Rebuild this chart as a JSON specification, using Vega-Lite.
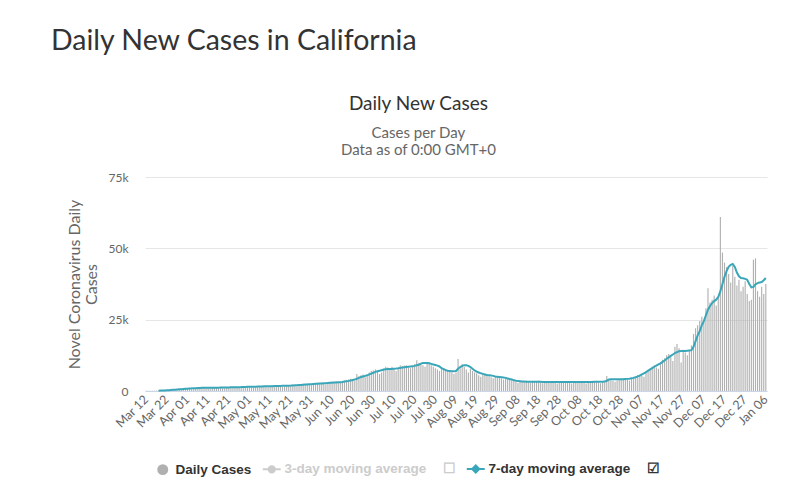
{
"$schema": "https://vega.github.io/schema/vega-lite/v6.json",
"background": "white",
"padding": {"left": 50, "top": 26, "right": 10, "bottom": 5},
"config": {"view": {"stroke": null}, "font": "Lato"},
"title": {"text": "Daily New Cases in California", "anchor": "start", "font": "Lato", "fontSize": 28.5, "fontWeight": "normal", "color": "#333333", "dx": -16, "offset": 40},
"datasets": {"ca": [
{"t":"Mar 12","c":50,"a":null},{"t":"Mar 13","c":70,"a":null},{"t":"Mar 14","c":90,"a":null},{"t":"Mar 15","c":100,"a":null},{"t":"Mar 16","c":120,"a":null},{"t":"Mar 17","c":160,"a":null},
{"t":"Mar 18","c":190,"a":110},{"t":"Mar 19","c":250,"a":140},{"t":"Mar 20","c":300,"a":170},{"t":"Mar 21","c":280,"a":200},{"t":"Mar 22","c":350,"a":250},{"t":"Mar 23","c":420,"a":300},{"t":"Mar 24","c":500,"a":350},{"t":"Mar 25","c":550,"a":410},{"t":"Mar 26","c":620,"a":460},{"t":"Mar 27","c":700,"a":520},{"t":"Mar 28","c":650,"a":580},{"t":"Mar 29","c":620,"a":620},{"t":"Mar 30","c":800,"a":680},{"t":"Mar 31","c":900,"a":750},
{"t":"Apr 01","c":1000,"a":820},{"t":"Apr 02","c":1100,"a":870},{"t":"Apr 03","c":1200,"a":920},{"t":"Apr 04","c":1000,"a":950},{"t":"Apr 05","c":900,"a":980},{"t":"Apr 06","c":1100,"a":1020},{"t":"Apr 07","c":1300,"a":1060},{"t":"Apr 08","c":1200,"a":1100},{"t":"Apr 09","c":1250,"a":1120},{"t":"Apr 10","c":1300,"a":1150},
{"t":"Apr 11","c":1100,"a":1160},{"t":"Apr 12","c":950,"a":1140},{"t":"Apr 13","c":1100,"a":1130},{"t":"Apr 14","c":1200,"a":1140},{"t":"Apr 15","c":1300,"a":1150},{"t":"Apr 16","c":1350,"a":1170},{"t":"Apr 17","c":1400,"a":1190},{"t":"Apr 18","c":1200,"a":1200},{"t":"Apr 19","c":1000,"a":1210},{"t":"Apr 20","c":1100,"a":1220},
{"t":"Apr 21","c":1400,"a":1250},{"t":"Apr 22","c":1500,"a":1280},{"t":"Apr 23","c":1450,"a":1300},{"t":"Apr 24","c":1500,"a":1320},{"t":"Apr 25","c":1300,"a":1330},{"t":"Apr 26","c":1100,"a":1340},{"t":"Apr 27","c":1200,"a":1360},{"t":"Apr 28","c":1500,"a":1400},{"t":"Apr 29","c":1600,"a":1430},{"t":"Apr 30","c":1550,"a":1460},
{"t":"May 01","c":1650,"a":1490},{"t":"May 02","c":1400,"a":1500},{"t":"May 03","c":1200,"a":1510},{"t":"May 04","c":1300,"a":1530},{"t":"May 05","c":1600,"a":1560},{"t":"May 06","c":1700,"a":1590},{"t":"May 07","c":1650,"a":1610},{"t":"May 08","c":1750,"a":1630},{"t":"May 09","c":1500,"a":1640},{"t":"May 10","c":1300,"a":1660},
{"t":"May 11","c":1500,"a":1680},{"t":"May 12","c":1800,"a":1700},{"t":"May 13","c":1900,"a":1720},{"t":"May 14","c":1850,"a":1740},{"t":"May 15","c":1950,"a":1760},{"t":"May 16","c":1700,"a":1780},{"t":"May 17","c":1500,"a":1800},{"t":"May 18","c":1600,"a":1820},{"t":"May 19","c":2000,"a":1850},{"t":"May 20","c":2100,"a":1880},
{"t":"May 21","c":2050,"a":1900},{"t":"May 22","c":2150,"a":1940},{"t":"May 23","c":1900,"a":1980},{"t":"May 24","c":1700,"a":2020},{"t":"May 25","c":1900,"a":2070},{"t":"May 26","c":2300,"a":2130},{"t":"May 27","c":2500,"a":2190},{"t":"May 28","c":2400,"a":2250},{"t":"May 29","c":2600,"a":2300},{"t":"May 30","c":2300,"a":2350},
{"t":"May 31","c":2000,"a":2400},{"t":"Jun 01","c":2200,"a":2450},{"t":"Jun 02","c":2700,"a":2500},{"t":"Jun 03","c":2900,"a":2550},{"t":"Jun 04","c":2800,"a":2600},{"t":"Jun 05","c":3000,"a":2650},{"t":"Jun 06","c":2600,"a":2700},{"t":"Jun 07","c":2300,"a":2750},{"t":"Jun 08","c":2500,"a":2800},{"t":"Jun 09","c":3100,"a":2850},
{"t":"Jun 10","c":3300,"a":2900},{"t":"Jun 11","c":3200,"a":2950},{"t":"Jun 12","c":3400,"a":3000},{"t":"Jun 13","c":3000,"a":3050},{"t":"Jun 14","c":2800,"a":3100},{"t":"Jun 15","c":3000,"a":3180},{"t":"Jun 16","c":3600,"a":3300},{"t":"Jun 17","c":3900,"a":3420},{"t":"Jun 18","c":4000,"a":3550},{"t":"Jun 19","c":4300,"a":3700},
{"t":"Jun 20","c":3800,"a":3850},{"t":"Jun 21","c":3500,"a":4000},{"t":"Jun 22","c":6000,"a":4300},{"t":"Jun 23","c":5200,"a":4600},{"t":"Jun 24","c":5500,"a":4900},{"t":"Jun 25","c":5800,"a":5100},{"t":"Jun 26","c":5000,"a":5300},{"t":"Jun 27","c":5200,"a":5500},{"t":"Jun 28","c":6500,"a":5800},{"t":"Jun 29","c":7000,"a":6100},
{"t":"Jun 30","c":7200,"a":6400},{"t":"Jul 01","c":7500,"a":6700},{"t":"Jul 02","c":7000,"a":6900},{"t":"Jul 03","c":6000,"a":7100},{"t":"Jul 04","c":6500,"a":7300},{"t":"Jul 05","c":7800,"a":7500},{"t":"Jul 06","c":8500,"a":7600},{"t":"Jul 07","c":8200,"a":7700},{"t":"Jul 08","c":8000,"a":7700},{"t":"Jul 09","c":8500,"a":7750},
{"t":"Jul 10","c":7500,"a":7800},{"t":"Jul 11","c":7000,"a":7850},{"t":"Jul 12","c":8000,"a":7950},{"t":"Jul 13","c":9000,"a":8100},{"t":"Jul 14","c":8800,"a":8200},{"t":"Jul 15","c":8900,"a":8300},{"t":"Jul 16","c":9000,"a":8400},{"t":"Jul 17","c":8200,"a":8500},{"t":"Jul 18","c":8000,"a":8600},{"t":"Jul 19","c":8600,"a":8700},
{"t":"Jul 20","c":9500,"a":8800},{"t":"Jul 21","c":10800,"a":9000},{"t":"Jul 22","c":9800,"a":9200},{"t":"Jul 23","c":9700,"a":9600},{"t":"Jul 24","c":9000,"a":9800},{"t":"Jul 25","c":8500,"a":9850},{"t":"Jul 26","c":9800,"a":9800},{"t":"Jul 27","c":10200,"a":9700},{"t":"Jul 28","c":9000,"a":9500},{"t":"Jul 29","c":8500,"a":9300},
{"t":"Jul 30","c":8000,"a":9100},{"t":"Jul 31","c":7500,"a":8900},{"t":"Aug 01","c":7000,"a":8600},{"t":"Aug 02","c":7800,"a":8000},{"t":"Aug 03","c":8000,"a":7700},{"t":"Aug 04","c":7500,"a":7300},{"t":"Aug 05","c":7200,"a":7100},{"t":"Aug 06","c":6800,"a":7000},{"t":"Aug 07","c":6500,"a":6900},{"t":"Aug 08","c":6000,"a":6900},
{"t":"Aug 09","c":6500,"a":7000},{"t":"Aug 10","c":11200,"a":7800},{"t":"Aug 11","c":8000,"a":8400},{"t":"Aug 12","c":9500,"a":8800},{"t":"Aug 13","c":8500,"a":9000},{"t":"Aug 14","c":7500,"a":9000},{"t":"Aug 15","c":6500,"a":8800},{"t":"Aug 16","c":7800,"a":8400},{"t":"Aug 17","c":7000,"a":7800},{"t":"Aug 18","c":6500,"a":7200},
{"t":"Aug 19","c":6200,"a":6800},{"t":"Aug 20","c":5500,"a":6500},{"t":"Aug 21","c":5000,"a":6200},{"t":"Aug 22","c":5800,"a":6000},{"t":"Aug 23","c":6000,"a":5800},{"t":"Aug 24","c":5600,"a":5600},{"t":"Aug 25","c":5200,"a":5500},{"t":"Aug 26","c":4800,"a":5400},{"t":"Aug 27","c":4500,"a":5300},{"t":"Aug 28","c":5000,"a":5100},
{"t":"Aug 29","c":5200,"a":5000},{"t":"Aug 30","c":4700,"a":4900},{"t":"Aug 31","c":4400,"a":4800},{"t":"Sep 01","c":4000,"a":4700},{"t":"Sep 02","c":4300,"a":4600},{"t":"Sep 03","c":4500,"a":4400},{"t":"Sep 04","c":4200,"a":4200},{"t":"Sep 05","c":3800,"a":4000},{"t":"Sep 06","c":3500,"a":3800},{"t":"Sep 07","c":3200,"a":3600},
{"t":"Sep 08","c":2800,"a":3500},{"t":"Sep 09","c":3300,"a":3400},{"t":"Sep 10","c":3400,"a":3300},{"t":"Sep 11","c":3500,"a":3300},{"t":"Sep 12","c":3600,"a":3250},{"t":"Sep 13","c":3200,"a":3200},{"t":"Sep 14","c":2800,"a":3200},{"t":"Sep 15","c":3200,"a":3200},{"t":"Sep 16","c":3500,"a":3200},{"t":"Sep 17","c":3400,"a":3200},
{"t":"Sep 18","c":3600,"a":3200},{"t":"Sep 19","c":3100,"a":3200},{"t":"Sep 20","c":2700,"a":3180},{"t":"Sep 21","c":3000,"a":3150},{"t":"Sep 22","c":3400,"a":3150},{"t":"Sep 23","c":3500,"a":3150},{"t":"Sep 24","c":3300,"a":3150},{"t":"Sep 25","c":3500,"a":3150},{"t":"Sep 26","c":3000,"a":3150},{"t":"Sep 27","c":2600,"a":3150},
{"t":"Sep 28","c":2900,"a":3150},{"t":"Sep 29","c":3400,"a":3150},{"t":"Sep 30","c":3500,"a":3150},{"t":"Oct 01","c":3300,"a":3150},{"t":"Oct 02","c":3400,"a":3150},{"t":"Oct 03","c":2900,"a":3150},{"t":"Oct 04","c":2600,"a":3150},{"t":"Oct 05","c":3000,"a":3150},{"t":"Oct 06","c":3400,"a":3150},{"t":"Oct 07","c":3500,"a":3150},
{"t":"Oct 08","c":3300,"a":3150},{"t":"Oct 09","c":3400,"a":3150},{"t":"Oct 10","c":2900,"a":3150},{"t":"Oct 11","c":2600,"a":3150},{"t":"Oct 12","c":3000,"a":3150},{"t":"Oct 13","c":3400,"a":3150},{"t":"Oct 14","c":3600,"a":3180},{"t":"Oct 15","c":3500,"a":3200},{"t":"Oct 16","c":3400,"a":3200},{"t":"Oct 17","c":2900,"a":3200},
{"t":"Oct 18","c":2700,"a":3200},{"t":"Oct 19","c":3100,"a":3250},{"t":"Oct 20","c":3500,"a":3300},{"t":"Oct 21","c":5300,"a":3600},{"t":"Oct 22","c":4000,"a":4000},{"t":"Oct 23","c":3800,"a":4100},{"t":"Oct 24","c":3600,"a":4100},{"t":"Oct 25","c":3200,"a":4100},{"t":"Oct 26","c":3700,"a":4150},{"t":"Oct 27","c":4200,"a":4150},
{"t":"Oct 28","c":4300,"a":4100},{"t":"Oct 29","c":4400,"a":4150},{"t":"Oct 30","c":4500,"a":4200},{"t":"Oct 31","c":4000,"a":4250},{"t":"Nov 01","c":3600,"a":4300},{"t":"Nov 02","c":4300,"a":4450},{"t":"Nov 03","c":5000,"a":4600},{"t":"Nov 04","c":5200,"a":4800},{"t":"Nov 05","c":5600,"a":5100},{"t":"Nov 06","c":5800,"a":5400},
{"t":"Nov 07","c":5400,"a":5800},{"t":"Nov 08","c":5000,"a":6200},{"t":"Nov 09","c":6800,"a":6600},{"t":"Nov 10","c":7500,"a":7100},{"t":"Nov 11","c":7800,"a":7600},{"t":"Nov 12","c":8500,"a":8000},{"t":"Nov 13","c":9000,"a":8500},{"t":"Nov 14","c":8200,"a":8900},{"t":"Nov 15","c":7800,"a":9300},{"t":"Nov 16","c":10000,"a":9700},
{"t":"Nov 17","c":11000,"a":10200},{"t":"Nov 18","c":11500,"a":10700},{"t":"Nov 19","c":12500,"a":11300},{"t":"Nov 20","c":13000,"a":11800},{"t":"Nov 21","c":11800,"a":12300},{"t":"Nov 22","c":10500,"a":12800},{"t":"Nov 23","c":15500,"a":13300},{"t":"Nov 24","c":16500,"a":13600},{"t":"Nov 25","c":15000,"a":13900},{"t":"Nov 26","c":10000,"a":14000},
{"t":"Nov 27","c":14500,"a":14000},{"t":"Nov 28","c":13500,"a":14000},{"t":"Nov 29","c":12500,"a":14100},{"t":"Nov 30","c":14500,"a":14200},{"t":"Dec 01","c":16000,"a":14300},{"t":"Dec 02","c":20000,"a":15500},{"t":"Dec 03","c":22000,"a":17500},{"t":"Dec 04","c":23000,"a":19500},{"t":"Dec 05","c":24500,"a":21000},{"t":"Dec 06","c":26000,"a":23000},
{"t":"Dec 07","c":25000,"a":24500},{"t":"Dec 08","c":29000,"a":26500},{"t":"Dec 09","c":36000,"a":28500},{"t":"Dec 10","c":31000,"a":29800},{"t":"Dec 11","c":32000,"a":30800},{"t":"Dec 12","c":33500,"a":31500},{"t":"Dec 13","c":30000,"a":32000},{"t":"Dec 14","c":33000,"a":33000},{"t":"Dec 15","c":61000,"a":35000},{"t":"Dec 16","c":48500,"a":37500},
{"t":"Dec 17","c":45000,"a":40000},{"t":"Dec 18","c":43500,"a":42000},{"t":"Dec 19","c":41000,"a":43500},{"t":"Dec 20","c":38000,"a":44200},{"t":"Dec 21","c":44000,"a":44500},{"t":"Dec 22","c":40000,"a":43500},{"t":"Dec 23","c":37000,"a":41500},{"t":"Dec 24","c":39000,"a":40200},{"t":"Dec 25","c":35000,"a":39600},{"t":"Dec 26","c":36500,"a":39500},
{"t":"Dec 27","c":38500,"a":39300},{"t":"Dec 28","c":34000,"a":39000},{"t":"Dec 29","c":31500,"a":37500},{"t":"Dec 30","c":32000,"a":36300},{"t":"Dec 31","c":46000,"a":36500},{"t":"Jan 01","c":46500,"a":37400},{"t":"Jan 02","c":35000,"a":37800},{"t":"Jan 03","c":33000,"a":38000},{"t":"Jan 04","c":36500,"a":38200},{"t":"Jan 05","c":34000,"a":38800},
{"t":"Jan 06","c":37500,"a":39600}
]},
"vconcat": [{
"width": 622,
"height": 214,
"title": {"text": "Daily New Cases", "subtitle": ["Cases per Day", "Data as of 0:00 GMT+0"], "anchor": "middle", "frame": "bounds", "font": "Lato", "fontSize": 19, "fontWeight": "normal", "color": "#333333", "subtitleFont": "Lato", "subtitleFontSize": 15, "subtitleColor": "#666666", "subtitlePadding": 12, "subtitleLineHeight": 17, "offset": 13},
"data": {"name": "ca"},
"encoding": {
"x": {"field": "t", "type": "ordinal", "sort": null, "title": null,
 "scale": {"paddingInner": 0.45, "paddingOuter": 0.3},
 "axis": {"values": ["Mar 12","Mar 22","Apr 01","Apr 11","Apr 21","May 01","May 11","May 21","May 31","Jun 10","Jun 20","Jun 30","Jul 10","Jul 20","Jul 30","Aug 09","Aug 19","Aug 29","Sep 08","Sep 18","Sep 28","Oct 08","Oct 18","Oct 28","Nov 07","Nov 17","Nov 27","Dec 07","Dec 17","Dec 27","Jan 06"],
  "labelAngle": -45, "labelAlign": "right", "labelBaseline": "middle", "labelOverlap": false, "ticks": false, "domainColor": "#ccd6eb", "labelColor": "#666666", "labelFont": "Lato", "labelFontSize": 12.5, "labelPadding": 6}}
},
"layer": [
{"mark": {"type": "bar"},
 "encoding": {
  "y": {"field": "c", "type": "quantitative", "scale": {"domain": [0, 75000], "nice": false},
   "axis": {"title": ["Novel Coronavirus Daily", "Cases"], "titleFont": "Lato", "titleFontSize": 16, "titleLineHeight": 17, "titleFontWeight": "normal", "titleColor": "#666666", "titlePadding": 8,
    "values": [0, 25000, 50000, 75000], "labelExpr": "datum.value === 0 ? '0' : (datum.value / 1000) + 'k'", "labelColor": "#666666", "labelFont": "Lato", "labelFontSize": 12, "labelPadding": 17,
    "ticks": false, "domain": false, "gridColor": "#e6e6e6"}},
  "color": {"datum": "Daily Cases", "type": "nominal",
   "scale": {"domain": ["Daily Cases", "3-day moving average", "7-day moving average"], "range": ["#b0b0b0", "#cccccc", "#3aa6b9"]},
   "legend": {"title": null, "orient": "bottom", "direction": "horizontal", "offset": 19, "padding": 11,
    "labelFont": "Liberation Sans", "labelFontSize": 13.5, "labelFontWeight": "bold", "labelColor": "#333333", "labelOffset": 6, "columnPadding": 6, "labelLimit": 400,
    "encode": {
     "symbols": {"update": {
      "shape": {"signal": "datum.value === 'Daily Cases' ? 'circle' : datum.value === '3-day moving average' ? 'M-1,0L1,0M0.35,0A0.35,0.35 0 1,1 -0.35,0A0.35,0.35 0 1,1 0.35,0Z' : 'M-1,0L1,0M0,-0.4L0.4,0L0,0.4L-0.4,0Z'"},
      "size": {"signal": "datum.value === 'Daily Cases' ? 120 : 320"},
      "fill": {"signal": "datum.value === 'Daily Cases' ? '#999999' : datum.value === '3-day moving average' ? '#cccccc' : '#3aa6b9'"},
      "stroke": {"signal": "datum.value === 'Daily Cases' ? '#999999' : datum.value === '3-day moving average' ? '#cccccc' : '#3aa6b9'"},
      "strokeWidth": {"signal": "datum.value === 'Daily Cases' ? 0 : 2"},
      "opacity": {"value": 1}}},
     "labels": {"update": {
      "text": {"signal": "datum.value === 'Daily Cases' ? datum.label + '\u2003' : datum.label + '\u2003\u2009' + (datum.value === '7-day moving average' ? '\u2611\ufe0e' : '\u2610\ufe0e')"},
      "fill": {"signal": "datum.value === '3-day moving average' ? '#cccccc' : '#333333'"}}}
    }}}
 }},
{"mark": {"type": "line", "strokeWidth": 2},
 "encoding": {
  "y": {"field": "a", "type": "quantitative"},
  "color": {"datum": "7-day moving average", "type": "nominal"}
 }}
]
}]
}
